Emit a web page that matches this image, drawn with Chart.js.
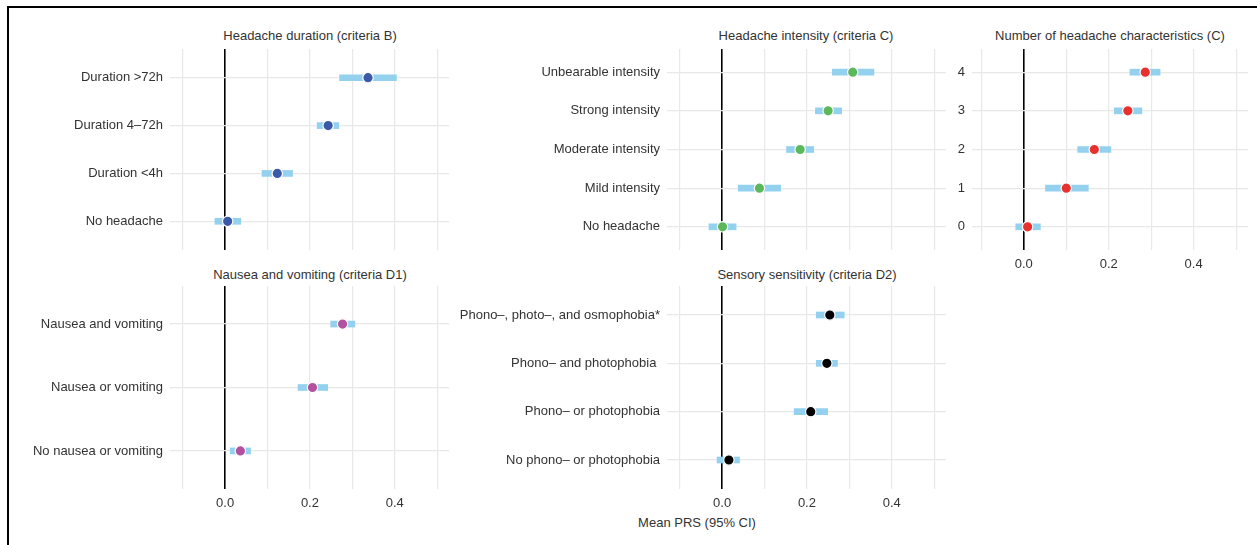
<!DOCTYPE html>
<html>
<head>
<meta charset="utf-8">
<script src="https://cdn.jsdelivr.net/npm/chart.js@4"></script>
<style>
  body { margin: 0; background: #fff; font-family: "Liberation Sans", Arial, sans-serif; }
  #frame { position: absolute; left: 7px; top: 5.5px; width: 1260px; height: 560px;
           border-left: 2.5px solid #000; border-top: 2.5px solid #000; }
  canvas { position: absolute; }
  .title { position: absolute; font-size: 13px; color: #333; transform: translate(-50%, -50%); white-space: nowrap; }
</style>
</head>
<body>
<div id="frame"></div>

<div class="title" style="left:310px; top:35px">Headache duration (criteria B)</div>
<div class="title" style="left:806px; top:35px">Headache intensity (criteria C)</div>
<div class="title" style="left:1110px; top:35px">Number of headache characteristics (C)</div>
<div class="title" style="left:310px; top:274px">Nausea and vomiting (criteria D1)</div>
<div class="title" style="left:807px; top:274px">Sensory sensitivity (criteria D2)</div>
<div class="title" style="left:697px; top:522px">Mean PRS (95% CI)</div>

<canvas id="c1" style="left:10px; top:49px" width="439" height="201"></canvas>
<canvas id="c2" style="left:460px; top:49px" width="486" height="201"></canvas>
<canvas id="c3" style="left:946px; top:49px" width="302" height="226"></canvas>
<canvas id="c4" style="left:10px; top:286px" width="439" height="228"></canvas>
<canvas id="c5" style="left:440px; top:286px" width="506" height="228"></canvas>

<script>
// headache duration (criteria B)
const durLabels = ['Duration >72h', 'Duration 4\u201372h', 'Duration <4h', 'No headache'];
const durMean = [0.337, 0.243, 0.123, 0.006];
const durLow  = [0.270, 0.217, 0.087, -0.024];
const durHigh = [0.404, 0.268, 0.159, 0.037];

// headache intensity (criteria C)
const intLabels = ['Unbearable intensity', 'Strong intensity', 'Moderate intensity', 'Mild intensity', 'No headache'];
const intMean = [0.308, 0.250, 0.184, 0.088, 0.001];
const intLow  = [0.260, 0.220, 0.152, 0.038, -0.031];
const intHigh = [0.358, 0.282, 0.216, 0.138, 0.033];

// number of headache characteristics (C)
const numLabels = ['4', '3', '2', '1', '0'];
const numMean = [0.286, 0.245, 0.166, 0.100, 0.009];
const numLow  = [0.250, 0.213, 0.127, 0.051, -0.019];
const numHigh = [0.321, 0.278, 0.205, 0.152, 0.039];

// nausea and vomiting (criteria D1)
const nauLabels = ['Nausea and vomiting', 'Nausea or vomiting', 'No nausea or vomiting'];
const nauMean = [0.277, 0.206, 0.036];
const nauLow  = [0.249, 0.172, 0.012];
const nauHigh = [0.306, 0.242, 0.060];

// sensory sensitivity (criteria D2)
const senLabels = ['Phono\u2013, photo\u2013, and osmophobia*', 'Phono\u2013 and photophobia ', 'Phono\u2013 or photophobia', 'No phono\u2013 or photophobia'];
const senMean = [0.254, 0.247, 0.209, 0.016];
const senLow  = [0.222, 0.222, 0.170, -0.012];
const senHigh = [0.288, 0.272, 0.249, 0.041];

const xTicks = [-0.1, 0, 0.1, 0.2, 0.3, 0.4, 0.5];
const xLabelled = ['0.0', '0.2', '0.4'];

Chart.defaults.font.family = '"Liberation Sans", Arial, sans-serif';
Chart.defaults.font.size = 13;
Chart.defaults.color = '#333';

function noPad(ax) {
  ax.paddingTop = 0; ax.paddingBottom = 0; ax.paddingLeft = 0; ax.paddingRight = 0;
}

function panel(id, labels, mean, low, high, color, yWidth, xHeight, showX, xMin) {
  const n = labels.length;
  new Chart(document.getElementById(id), {
    type: 'bar',
    data: {
      datasets: [
        {
          type: 'line',
          indexAxis: 'y',
          showLine: false,
          data: mean.map((m, i) => ({ x: m, y: i + 1 })),
          pointRadius: 5.2,
          pointBackgroundColor: color,
          pointBorderColor: '#fff',
          pointBorderWidth: 1.2,
          order: 1
        },
        {
          type: 'bar',
          data: low.map((l, i) => ({ x: [l, high[i]], y: i + 1 })),
          backgroundColor: '#93d1ef',
          barThickness: 6,
          order: 2
        }
      ]
    },
    options: {
      indexAxis: 'y',
      responsive: false,
      animation: false,
      layout: { padding: 0, autoPadding: false },
      plugins: { legend: { display: false }, tooltip: { enabled: false } },
      scales: {
        x: {
          type: 'linear',
          min: xMin,
          max: 0.528,
          offset: false,
          afterBuildTicks: ax => { ax.ticks = xTicks.map(v => ({ value: v })); },
          afterFit: ax => { ax.height = xHeight; noPad(ax); },
          border: { display: false },
          grid: {
            offset: false,
            drawTicks: false,
            color: c => (Math.abs(c.tick.value) < 1e-9 ? '#000' : '#e8e8e8'),
            lineWidth: c => (Math.abs(c.tick.value) < 1e-9 ? 1.6 : 1.2)
          },
          ticks: {
            display: showX,
            padding: 7,
            maxRotation: 0,
            autoSkip: false,
            color: '#333',
            callback: v => {
              const s = (Math.round(v * 10) / 10).toFixed(1);
              return xLabelled.includes(s) ? s : '';
            }
          }
        },
        y: {
          type: 'linear',
          reverse: true,
          min: 0.4,
          max: n + 0.6,
          offset: false,
          afterBuildTicks: ax => { ax.ticks = labels.map((_, i) => ({ value: i + 1 })); },
          afterFit: ax => { ax.width = yWidth; noPad(ax); },
          border: { display: false },
          grid: { offset: false, drawTicks: false, color: '#e8e8e8', lineWidth: 1.2 },
          ticks: {
            padding: 7,
            autoSkip: false,
            color: '#333',
            callback: v => labels[Math.round(v) - 1]
          }
        }
      }
    }
  });
}

panel('c1', durLabels, durMean, durLow, durHigh, '#3c59a8', 160, 0, false, -0.13);
panel('c2', intLabels, intMean, intLow, intHigh, '#5cb85a', 207, 0, false, -0.13);
panel('c3', numLabels, numMean, numLow, numHigh, '#e8302f', 26, 25, true, -0.122);
panel('c4', nauLabels, nauMean, nauLow, nauHigh, '#b4519f', 160, 25, true, -0.13);
panel('c5', senLabels, senMean, senLow, senHigh, '#000000', 227, 25, true, -0.13);
</script>
</body>
</html>
